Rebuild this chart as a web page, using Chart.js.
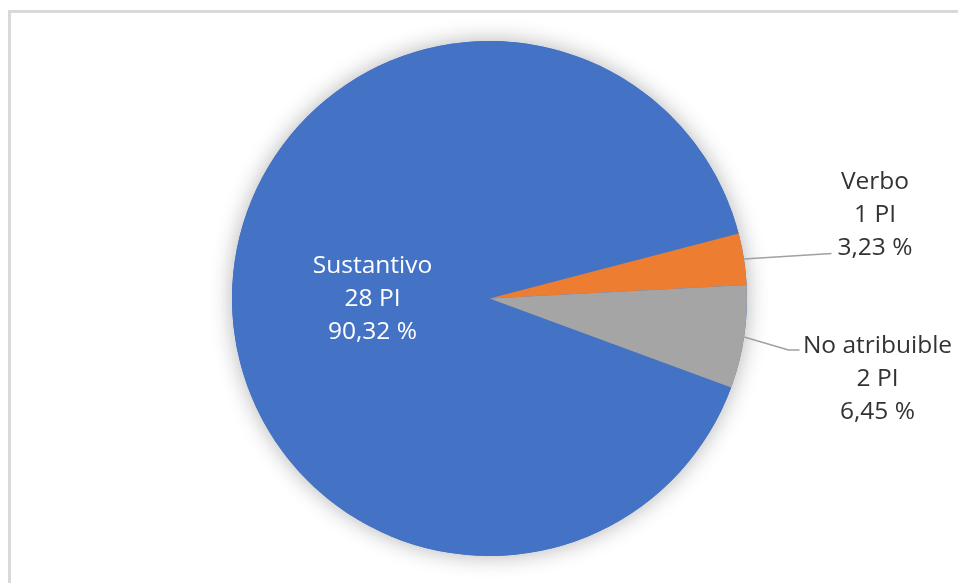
<!DOCTYPE html>
<html>
<head>
<meta charset="utf-8">
<script src="https://cdn.jsdelivr.net/npm/chart.js@4.4.0/dist/chart.umd.min.js"></script>
<style>
  html, body { margin: 0; padding: 0; background: #fff; }
  #wrap { position: relative; width: 958px; height: 583px; overflow: hidden; }
  #frame { position: absolute; left: 8px; top: 10px; width: 1000px; height: 600px;
           border-left: 3px solid #d9d9d9; border-top: 3px solid #d9d9d9; }
  canvas { position: absolute; left: 0; top: 0; }
</style>
</head>
<body>
<div id="wrap">
  <div id="frame"></div>
  <canvas id="myChartPie" width="958" height="583"></canvas>
</div>
<script>
// data
const categories = ['Sustantivo', 'Verbo', 'No atribuible'];
const counts = [28, 1, 2];
const colors = ['#4472C4', '#ED7D31', '#A5A5A5'];

const total = counts.reduce((a, b) => a + b, 0);
const percentLabels = counts.map(v => (v / total * 100).toFixed(2).replace('.', ',') + ' %');

const FONT_SIZE = 24.5;
const FONT = FONT_SIZE + 'px "Open Sans"';
const LINE_H = 33;

// label spots, offsets from the pie centre
const labelSpots = [
  { dx: -117, dy: -1.5, color: '#ffffff' },
  { dx: 385.5, dy: -85.5, color: '#333333', leader: [[342, -45]] },
  { dx: 388, dy: 78.5, color: '#333333', leader: [[299, 51.5], [310, 51.5]] }
];

// soft shadow behind the whole pie
const pieShadow = {
  id: 'pieShadow',
  beforeDatasetsDraw(chart) {
    const arc = chart.getDatasetMeta(0).data[0];
    const ctx = chart.ctx;
    ctx.save();
    ctx.shadowColor = 'rgba(0,0,0,0.3)';
    ctx.shadowBlur = 22;
    ctx.beginPath();
    ctx.arc(arc.x, arc.y, arc.outerRadius, 0, Math.PI * 2);
    ctx.fillStyle = colors[0];
    ctx.fill();
    ctx.restore();
  }
};

const pieLabels = {
  id: 'pieLabels',
  afterDatasetsDraw(chart) {
    const ctx = chart.ctx;
    const meta = chart.getDatasetMeta(0);
    meta.data.forEach((arc, i) => {
      const spot = labelSpots[i];
      const cx = arc.x, cy = arc.y;
      if (spot.leader) {
        const mid = (arc.startAngle + arc.endAngle) / 2;
        ctx.save();
        ctx.strokeStyle = '#a0a0a0';
        ctx.lineWidth = 1.6;
        ctx.beginPath();
        ctx.moveTo(cx + Math.cos(mid) * arc.outerRadius, cy + Math.sin(mid) * arc.outerRadius);
        spot.leader.forEach(p => ctx.lineTo(cx + p[0], cy + p[1]));
        ctx.stroke();
        ctx.restore();
      }
      const lines = [categories[i], counts[i] + ' PI', percentLabels[i]];
      ctx.save();
      ctx.font = FONT;
      ctx.fillStyle = spot.color;
      ctx.textAlign = 'center';
      ctx.textBaseline = 'alphabetic';
      lines.forEach((t, k) => {
        ctx.fillText(t, cx + spot.dx, cy + spot.dy + (k - 1) * LINE_H + FONT_SIZE * 0.357);
      });
      ctx.restore();
    });
  }
};

const config = {
  type: 'pie',
  data: {
    labels: categories,
    datasets: [{
      data: counts,
      backgroundColor: colors,
      borderWidth: 0
    }]
  },
  options: {
    responsive: false,
    animation: false,
    rotation: 110.2,
    layout: { padding: { left: 232, top: 41, right: 211, bottom: 27 } },
    plugins: {
      legend: { display: false },
      tooltip: { enabled: false }
    }
  },
  plugins: [pieShadow, pieLabels]
};

const myChart = new Chart(document.getElementById('myChartPie'), config);
</script>
</body>
</html>
